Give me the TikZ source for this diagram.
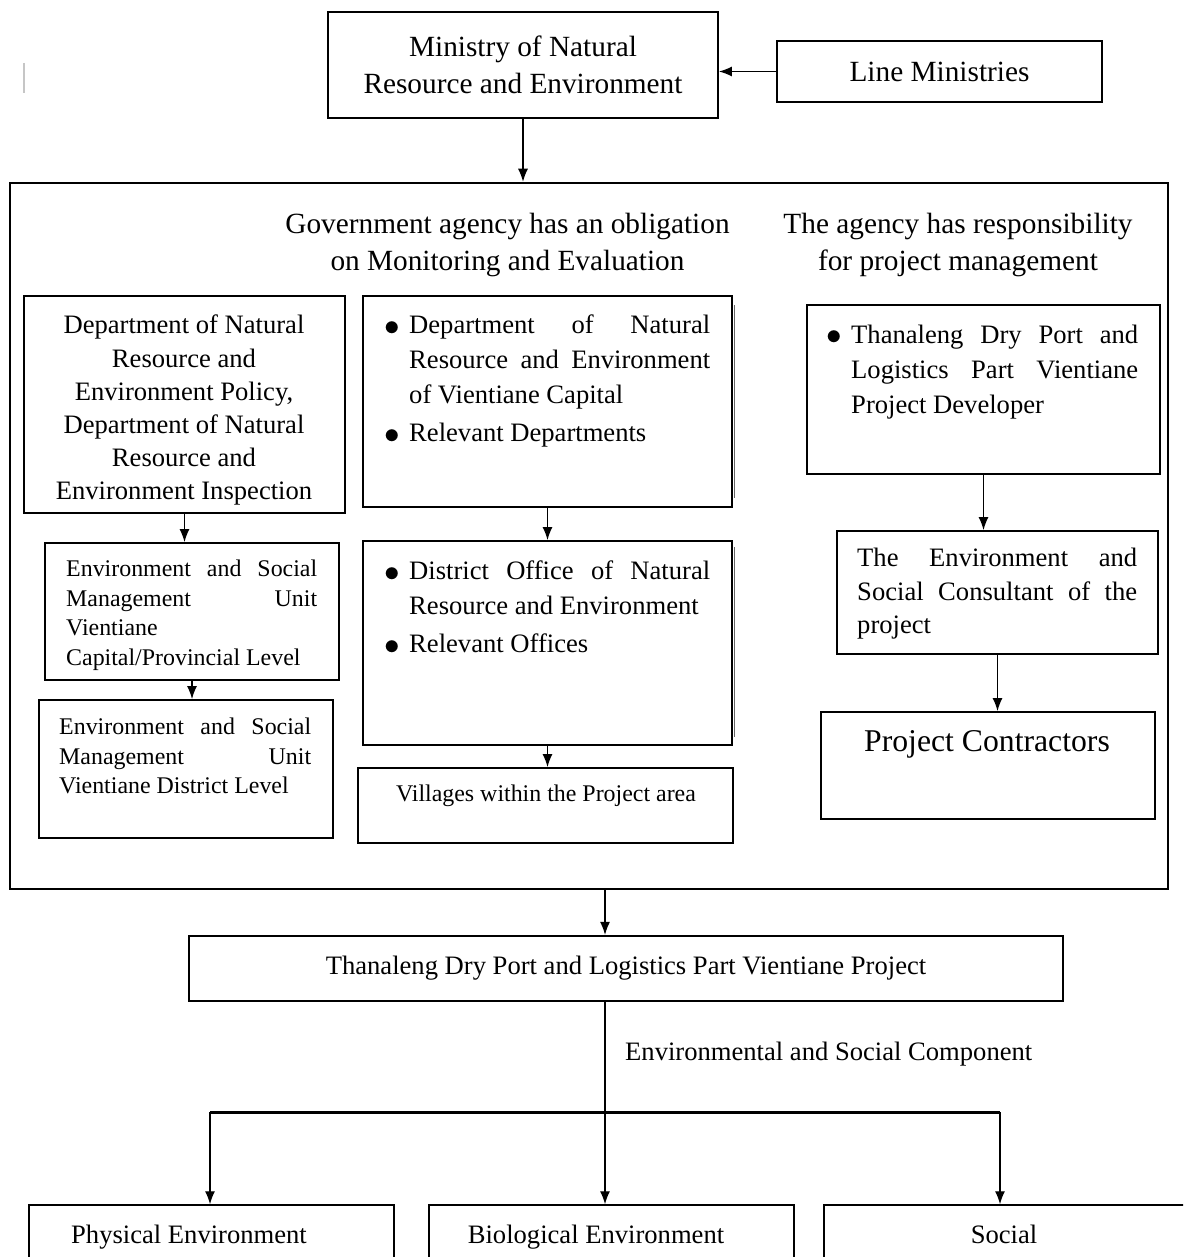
\documentclass[tikz,border=0pt]{standalone}
\usepackage{fontspec}
\usepackage{graphicx}
\setmainfont{Liberation Serif}
\usetikzlibrary{arrows.meta}
\newcommand{\fhead}{\fontsize{29.3pt}{36.5pt}\selectfont}
\newcommand{\fbody}[1][35pt]{\fontsize{26.6pt}{#1}\selectfont}
\newcommand{\fsmall}{\fontsize{23.9pt}{29.6pt}\selectfont}
\newcommand{\fbig}{\fontsize{31.7pt}{38pt}\selectfont}
\newcommand{\bitem}[1]{\hangindent=18pt\hangafter=1\noindent\makebox[18pt][l]{\hspace{-7pt}\raisebox{-1.8pt}{\scalebox{1.25}{$\bullet$}}}#1\par}

\begin{document}
\begin{tikzpicture}[x=1pt, y=-1pt,
  box/.style={draw, line width=1.8pt, inner sep=0pt},
  txt/.style={inner sep=0pt, execute at begin node={\hyphenpenalty=10000\tolerance=10000\parskip=3pt}},
  jtxt/.style={txt, align=justify, anchor=north west},
  arr/.style={-{Latex[length=13pt,width=10pt]}, line width=1.3pt}]
\useasboundingbox (0,0) rectangle (1183,1257);
\clip (0,0) rectangle (1183,1257);
\draw[gray!45, line width=1.5pt] (24,63) -- (24,93);

%%%%%%%%%%%%%%%%%%%
\node[box, minimum width=390, minimum height=106, align=center, font=\fhead] (min) at (523,65) {Ministry of Natural\\Resource and Environment};
\node[box, minimum width=325, minimum height=61, font=\fhead] (lm) at (939.5,71.5) {Line Ministries};
\node[box, line width=2.5pt, minimum width=1158, minimum height=706] (outer) at (589,536) {};
\node[box, minimum width=321, minimum height=217] (dnrep) at (184.5,404.5) {};
\node[box, minimum width=294, minimum height=137] (esmucap) at (192,611.5) {};
\node[box, minimum width=294, minimum height=138] (esmudist) at (186,769) {};
\node[box, minimum width=369, minimum height=211] (dnrevc) at (547.5,401.5) {};
\node[box, minimum width=369, minimum height=204] (dnre) at (547.5,643) {};
\node[box, minimum width=375, minimum height=75] (vil) at (545.5,805.5) {};
\node[box, minimum width=353, minimum height=169] (dev) at (983.5,389.5) {};
\node[box, minimum width=321, minimum height=123] (cons) at (997.5,592.5) {};
\node[box, minimum width=334, minimum height=107] (contr) at (988,765.5) {};
\node[box, line width=2.2pt, minimum width=874, minimum height=65, font=\fbody] (proj) at (626,968.5) {Thanaleng Dry Port and Logistics Part Vientiane Project};
\node[box, line width=1.5pt, minimum width=365, minimum height=100] (phys) at (211.5,1255) {};
\node[box, line width=1.5pt, minimum width=365, minimum height=100] (bio) at (611.5,1255) {};
\node[box, line width=1.5pt, minimum width=366, minimum height=100] (soc) at (1007,1255) {};
\draw[black!60, line width=1pt] (734,305) -- (734,498);
\draw[black!60, line width=1pt] (734,547) -- (734,737);

%%%%%%%%%%%%%%%%%%%
\node[txt, font=\fhead, align=center] (govtxt) at (507.5,245) {Government agency has an obligation\\on Monitoring and Evaluation};
\node[txt, font=\fhead, align=center] (mgmttxt) at (958,245) {The agency has responsibility\\for project management};
\node[txt, font={\fbody[33.2pt]}, align=center, anchor=north] (dnreptxt) at (184,315) {Department of Natural\\Resource and\\Environment Policy,\\Department of Natural\\Resource and\\Environment Inspection};
\node[jtxt, font=\fsmall, text width=251] (esmucaptxt) at (66,560) {Environment and Social\linebreak Management Unit\linebreak Vientiane\newline Capital/Provincial Level};
\node[jtxt, font=\fsmall, text width=252] (esmudisttxt) at (59,718) {Environment and Social\linebreak Management Unit\linebreak Vientiane District Level};
\node[jtxt, font=\fbody, text width=319] (dnrevctxt) at (391,315) {\bitem{Department of Natural\linebreak Resource and Environment\linebreak of Vientiane Capital}\bitem{Relevant Departments}};
\node[jtxt, font=\fbody, text width=319] (dnretxt) at (391,561) {\bitem{District Office of Natural\linebreak Resource and Environment}\bitem{Relevant Offices}};
\node[txt, font=\fsmall, anchor=base] (viltxt) at (546,801) {Villages within the Project area};
\node[jtxt, font=\fbody, text width=305] (devtxt) at (833,324.5) {\bitem{Thanaleng Dry Port and\linebreak Logistics Part Vientiane\linebreak Project Developer}};
\node[jtxt, font={\fbody[33.5pt]}, text width=280] (constxt) at (857,548) {The Environment and\linebreak Social Consultant of the\linebreak project};
\node[txt, font=\fbig, anchor=base] (contrtxt) at (987,751.5) {Project Contractors};
\node[txt, font=\fbody, anchor=base west] (comptxt) at (625,1060) {Environmental and Social Component};
\node[txt, font=\fbody, anchor=base] (phystxt) at (189,1243) {Physical Environment};
\node[txt, font=\fbody, anchor=base] (biotxt) at (596,1243) {Biological Environment};
\node[txt, font=\fbody, anchor=base] (soctxt) at (1004,1243) {Social};

%%%%%%%%%%%%%%%%%%%
\draw[arr] (lm.west) -- (lm.west -| min.east);
\draw[arr] (min.south) -- (min.south |- outer.north);
\draw[arr] (dnrep.south) -- (dnrep.south |- esmucap.north);
\draw[arr] (esmucap.south) -- (esmucap.south |- esmudist.north);
\draw[arr] (dnrevc.south) -- (dnrevc.south |- dnre.north);
\draw[arr] (dnre.south) -- (dnre.south |- vil.north);
\draw[arr] (dev.south) -- (dev.south |- cons.north);
\draw[arr] (cons.south) -- (cons.south |- contr.north);
\coordinate (hub) at (605,1112);
\coordinate (brL) at (210,1112);
\coordinate (brR) at (1000,1112);
\draw[arr] (hub |- outer.south) -- (hub |- proj.north);
\draw[line width=1.3pt] (hub |- proj.south) -- (hub);
\draw[line width=3pt] (brL) -- (brR);
\draw[arr] (brL) -- (brL |- phys.north);
\draw[arr] (hub) -- (hub |- bio.north);
\draw[arr] (brR) -- (brR |- soc.north);
\end{tikzpicture}
\end{document}
